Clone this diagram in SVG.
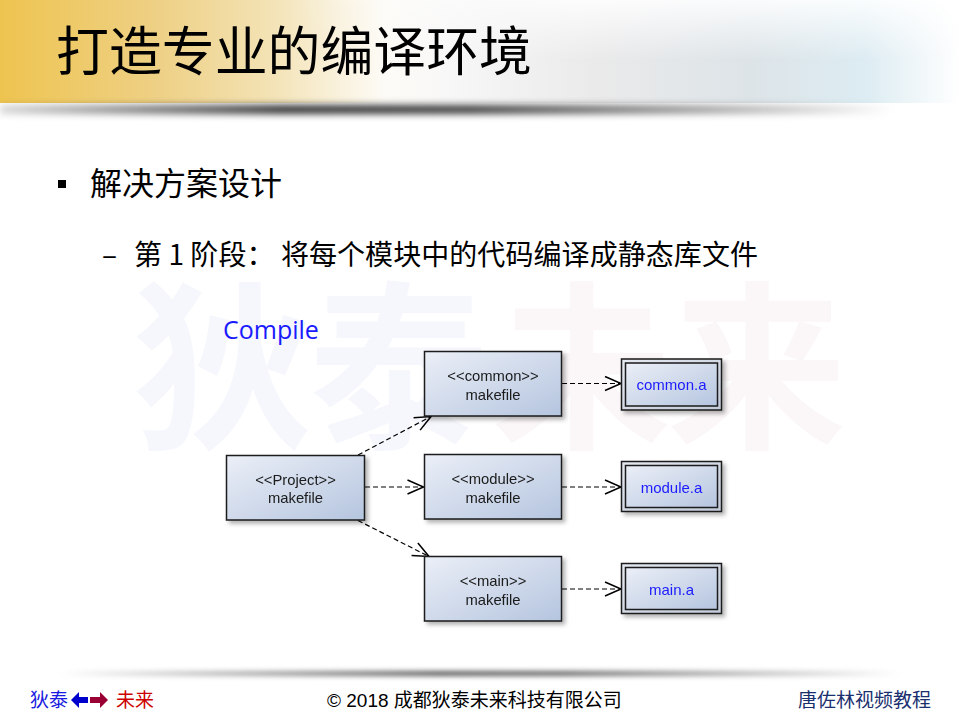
<svg xmlns="http://www.w3.org/2000/svg" width="960" height="720" viewBox="0 0 960 720">
  <defs>
    <linearGradient id="band" x1="0" y1="0" x2="1" y2="0">
      <stop offset="0" stop-color="#eec450"/>
      <stop offset="0.16" stop-color="#eed084"/>
      <stop offset="0.28" stop-color="#f3e2b4"/>
      <stop offset="0.40" stop-color="#fdfbf6"/>
      <stop offset="0.47" stop-color="#f7f7f7"/>
      <stop offset="0.62" stop-color="#eaeaea"/>
      <stop offset="0.78" stop-color="#dde4e8"/>
      <stop offset="0.90" stop-color="#dcecf2"/>
      <stop offset="1" stop-color="#ffffff"/>
    </linearGradient>
    <linearGradient id="bandTop" x1="0" y1="0" x2="0" y2="1">
      <stop offset="0" stop-color="#ffffff" stop-opacity="0.85"/>
      <stop offset="0.6" stop-color="#ffffff" stop-opacity="0"/>
    </linearGradient>
    <linearGradient id="bandTopMaskGrad" x1="0" y1="0" x2="1" y2="0">
      <stop offset="0.3" stop-color="#000"/>
      <stop offset="0.6" stop-color="#fff"/>
    </linearGradient>
    <mask id="bandTopMask">
      <rect x="0" y="0" width="960" height="103" fill="url(#bandTopMaskGrad)"/>
    </mask>
    <linearGradient id="headShadow" x1="0" y1="0" x2="1" y2="0">
      <stop offset="0" stop-color="#000" stop-opacity="0.15"/>
      <stop offset="0.3" stop-color="#000" stop-opacity="0.8"/>
      <stop offset="0.5" stop-color="#000" stop-opacity="0.75"/>
      <stop offset="0.75" stop-color="#000" stop-opacity="0.35"/>
      <stop offset="0.95" stop-color="#000" stop-opacity="0"/>
    </linearGradient>
    <linearGradient id="footShadow" x1="0" y1="0" x2="1" y2="0">
      <stop offset="0" stop-color="#000" stop-opacity="0"/>
      <stop offset="0.45" stop-color="#000" stop-opacity="0.65"/>
      <stop offset="0.6" stop-color="#000" stop-opacity="0.6"/>
      <stop offset="1" stop-color="#000" stop-opacity="0"/>
    </linearGradient>
    <filter id="soft" x="-10%" y="-200%" width="120%" height="500%">
      <feGaussianBlur stdDeviation="2.5"/>
    </filter>
    <filter id="softer" x="-10%" y="-200%" width="120%" height="500%">
      <feGaussianBlur stdDeviation="3.5"/>
    </filter>
    <linearGradient id="boxFill" x1="0" y1="0" x2="1" y2="1">
      <stop offset="0" stop-color="#ebeff7"/>
      <stop offset="1" stop-color="#b5c5df"/>
    </linearGradient>
    <linearGradient id="rimFill" x1="0" y1="0" x2="1" y2="1">
      <stop offset="0" stop-color="#e4e8f0"/>
      <stop offset="1" stop-color="#c3cbda"/>
    </linearGradient>
    <filter id="drop" x="-10%" y="-10%" width="130%" height="140%">
      <feDropShadow dx="3" dy="3" stdDeviation="2" flood-color="#000" flood-opacity="0.3"/>
    </filter>
    <marker id="open" viewBox="-18 -9 20 18" refX="0" refY="0" markerWidth="20" markerHeight="18" markerUnits="userSpaceOnUse" orient="auto">
      <path d="M-16,-7 L0,0 L-16,7" fill="none" stroke="#000" stroke-width="1.5"/>
    </marker>
    <style>
      .cjk { font-family: "Noto Sans CJK SC", "Noto Sans", sans-serif; }
      .box { fill: url(#boxFill); stroke: #1a1a1a; stroke-width: 1.5; }
      .rim { fill: url(#rimFill); stroke: #1a1a1a; stroke-width: 1.5; }
      .inner { fill: url(#boxFill); stroke: #1a1a1a; stroke-width: 1.5; }
      .lbl { font-family: "Liberation Sans", Arial, sans-serif; font-size: 14.8px; fill: #1a1a1a; text-anchor: middle; }
      .lib { font-family: "Liberation Sans", Arial, sans-serif; font-size: 15px; fill: #1a1aff; text-anchor: middle; }
      .dep { fill: none; stroke: #000; stroke-width: 1.2; stroke-dasharray: 5 3; marker-end: url(#open); }
      .wm { font-family: "Noto Sans CJK SC", sans-serif; font-size: 180px; font-weight: bold; }
    </style>
  </defs>

  <rect width="960" height="720" fill="#ffffff"/>

  <!-- header band -->
  <rect x="0" y="0" width="960" height="103" fill="url(#band)"/>
  <rect x="0" y="0" width="960" height="103" fill="url(#bandTop)" mask="url(#bandTopMask)"/>
  <rect x="0" y="105" width="940" height="9" fill="url(#headShadow)" filter="url(#softer)"/>

  <!-- watermark -->
  <g id="watermark">
    <text class="wm" x="133" y="434" fill="#f5f7fc">狄</text>
    <text class="wm" x="309" y="434" fill="#f5f7fc">泰</text>
    <text class="wm" x="492" y="434" fill="#fbf6f7">未</text>
    <text class="wm" x="667" y="434" fill="#fbf6f7">来</text>
  </g>

  <!-- title -->
  <text class="cjk" x="56" y="71" font-size="53" fill="#000" textLength="476" lengthAdjust="spacingAndGlyphs">打造专业的编译环境</text>

  <!-- bullets -->
  <rect x="58" y="180" width="8" height="8" fill="#000"/>
  <text class="cjk" x="90" y="195" font-size="32" fill="#000">解决方案设计</text>
  <text class="cjk" x="102" y="265" font-size="28" fill="#000">–</text>
  <text class="cjk" x="134" y="265" font-size="28" fill="#000" textLength="624" lengthAdjust="spacing">第 1 阶段： 将每个模块中的代码编译成静态库文件</text>

  <text x="223" y="339" font-family="Open Sans, Noto Sans, sans-serif" font-size="25" fill="#1a1aff">Compile</text>

  <!-- connectors -->
  <g id="connectors">
    <line class="dep" x1="358" y1="455" x2="431" y2="416.5"/>
    <line class="dep" x1="365" y1="487" x2="423.5" y2="487"/>
    <line class="dep" x1="358" y1="520.5" x2="429" y2="556.5"/>
    <line class="dep" x1="562" y1="383.5" x2="621" y2="383.5"/>
    <line class="dep" x1="562" y1="487" x2="621" y2="487"/>
    <line class="dep" x1="562" y1="589" x2="621" y2="589"/>
  </g>

  <!-- makefile nodes -->
  <g id="project" filter="url(#drop)">
    <rect class="box" x="226.5" y="455.5" width="138" height="64.5"/>
    <text class="lbl" x="295.5" y="484.5">&lt;&lt;Project&gt;&gt;</text>
    <text class="lbl" x="295.5" y="503">makefile</text>
  </g>
  <g id="common" filter="url(#drop)">
    <rect class="box" x="424.5" y="351.5" width="137" height="64.5"/>
    <text class="lbl" x="493" y="381">&lt;&lt;common&gt;&gt;</text>
    <text class="lbl" x="493" y="399.5">makefile</text>
  </g>
  <g id="module" filter="url(#drop)">
    <rect class="box" x="424.5" y="454.5" width="137" height="64.5"/>
    <text class="lbl" x="493" y="484">&lt;&lt;module&gt;&gt;</text>
    <text class="lbl" x="493" y="502.5">makefile</text>
  </g>
  <g id="main" filter="url(#drop)">
    <rect class="box" x="424.5" y="556.5" width="137" height="64.5"/>
    <text class="lbl" x="493" y="586">&lt;&lt;main&gt;&gt;</text>
    <text class="lbl" x="493" y="604.5">makefile</text>
  </g>

  <!-- library artifacts -->
  <g id="common-a" filter="url(#drop)">
    <rect class="rim" x="621.5" y="359" width="100" height="51"/>
    <rect class="inner" x="625.5" y="363" width="92" height="43"/>
    <text class="lib" x="671.5" y="390">common.a</text>
  </g>
  <g id="module-a" filter="url(#drop)">
    <rect class="rim" x="621.5" y="461.5" width="100" height="50"/>
    <rect class="inner" x="625.5" y="465.5" width="92" height="42"/>
    <text class="lib" x="671.5" y="492.5">module.a</text>
  </g>
  <g id="main-a" filter="url(#drop)">
    <rect class="rim" x="621.5" y="563.5" width="100" height="50"/>
    <rect class="inner" x="625.5" y="567.5" width="92" height="42"/>
    <text class="lib" x="671.5" y="595">main.a</text>
  </g>

  <!-- footer -->
  <rect x="60" y="671" width="840" height="5" fill="url(#footShadow)" filter="url(#soft)"/>
  <text class="cjk" x="30" y="707" font-size="19" fill="#1a1ae0">狄泰</text>
  <polygon points="71,700 79,692 79,697 88,697 88,703 79,703 79,708" fill="#0000cc"/>
  <polygon points="108,700 100,692 100,697 90,697 90,703 100,703 100,708" fill="#990033"/>
  <text class="cjk" x="116" y="707" font-size="19" fill="#cc0000">未来</text>
  <text x="327" y="707" font-size="19" fill="#000"><tspan font-family="Liberation Sans, Arial, sans-serif">© 2018 </tspan><tspan class="cjk">成都狄泰未来科技有限公司</tspan></text>
  <text class="cjk" x="798" y="707" font-size="19" fill="#1a2f6e">唐佐林视频教程</text>
</svg>
